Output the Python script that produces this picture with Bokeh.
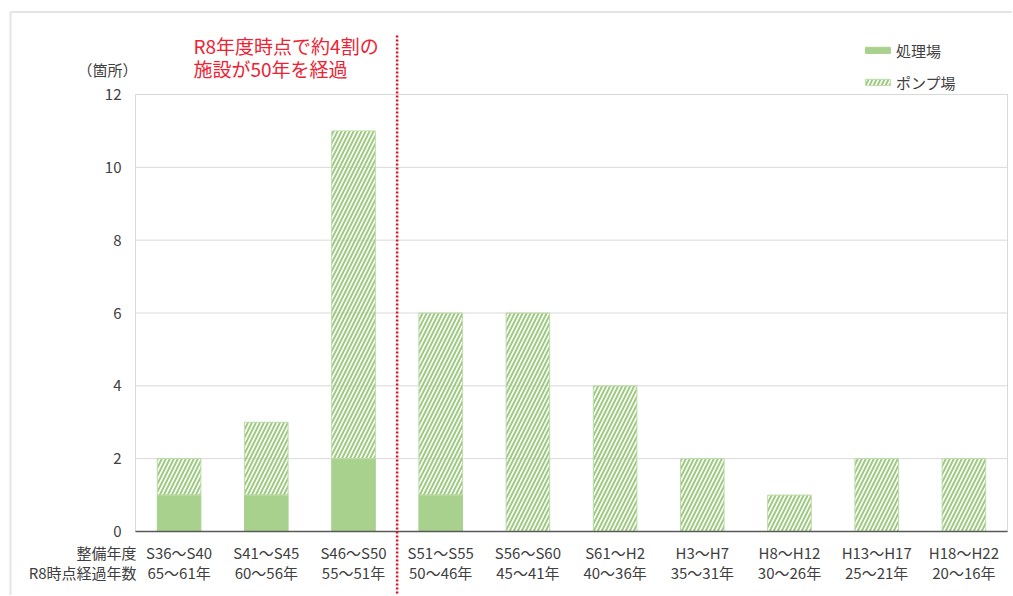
from bokeh.plotting import figure
from bokeh.models import Range1d, Legend, LegendItem, ColumnDataSource
from bokeh.core.properties import value
from bokeh.embed import file_html
from bokeh.resources import INLINE

# ---- data ----
periods = ["S36～S40", "S41～S45", "S46～S50", "S51～S55", "S56～S60",
           "S61～H2", "H3～H7", "H8～H12", "H13～H17", "H18～H22"]
ages = ["65～61年", "60～56年", "55～51年", "50～46年", "45～41年",
        "40～36年", "35～31年", "30～26年", "25～21年", "20～16年"]
treatment = [1, 1, 2, 1, 0, 0, 0, 0, 0, 0]      # 処理場
pump = [1, 2, 9, 5, 6, 4, 2, 1, 2, 2]           # ポンプ場
yticks = [0, 2, 4, 6, 8, 10, 12]
series_names = ["処理場", "ポンプ場"]
row_titles = ["整備年度", "R8時点経過年数"]
unit_label = "（箇所）"
note_lines = ["R8年度時点で約4割の", "施設が50年を経過"]
divider_after = 3          # 50-year boundary falls after the 3rd category

# ---- layout (pixels) ----
W, H = 1012, 595
PX_L, PX_R, PX_T, PX_B = 135, 1007, 94, 531
n = len(periods)
ymax = max(yticks)
sx = (PX_R - PX_L) / n
sy = (PX_B - PX_T) / ymax
x0 = -PX_L / sx
x1 = x0 + W / sx
ytop = ymax + PX_T / sy
ybot = ytop - H / sy

def ypix(py):
    return ymax + (PX_T - py) / sy

def xpix(px):
    return (px - PX_L) / sx

FONT = "Noto Sans CJK JP"
TXT = "#404040"
GREEN = "#a9d18e"

xs = [i + 0.5 for i in range(n)]
src = ColumnDataSource(dict(x=xs, t=treatment, p=pump))

p = figure(width=W, height=H, output_backend="svg", toolbar_location=None,
           x_range=Range1d(x0, x1), y_range=Range1d(ybot, ytop),
           min_border=0, min_border_left=0, min_border_right=0,
           min_border_top=0, min_border_bottom=0)
p.axis.visible = False
p.grid.grid_line_color = None
p.outline_line_color = None

# outer border of the picture
p.segment(x0=[xpix(10), xpix(10)], y0=[ypix(11.5), ypix(11.5)],
          x1=[x1 + 1, xpix(10)], y1=[ypix(11.5), ybot - 1],
          line_color="#e4e4e4", line_width=2)

# plot-area outline and gridlines
p.quad(left=0, right=n, bottom=0, top=ymax, fill_color=None,
       line_color="#d9d9d9", line_width=1)
p.segment(x0=[0] * (len(yticks) - 1), x1=[n] * (len(yticks) - 1),
          y0=yticks[1:], y1=yticks[1:], line_color="#d9d9d9", line_width=1)

rs = p.vbar_stack(["t", "p"], x="x", width=0.5, source=src,
                  fill_color=[GREEN, None],
                  line_color=[GREEN, "#bcdca8"], line_width=1,
                  hatch_pattern=[None, "/"], hatch_color="#9fca82",
                  hatch_weight=2, hatch_scale=8)

# x axis line
p.segment(x0=[0], x1=[n], y0=[0], y1=[0], line_color="#595959", line_width=1.5)

# y tick labels
p.text(x=[0] * len(yticks), y=yticks, text=[str(v) for v in yticks],
       x_offset=-14, text_align="right", text_baseline="middle",
       text_font=value(FONT), text_font_size=value("15px"), text_color=TXT)

# x category labels (two rows)
row1_y, row2_y = ypix(552), ypix(572)
p.text(x=xs, y=[row1_y] * n, text=periods, text_align="center",
       text_baseline="middle", text_font=value(FONT),
       text_font_size=value("15px"), text_color=TXT)
p.text(x=xs, y=[row2_y] * n, text=ages, text_align="center",
       text_baseline="middle", text_font=value(FONT),
       text_font_size=value("15px"), text_color=TXT)
p.text(x=[0, 0], y=[row1_y, row2_y], text=row_titles, x_offset=1,
       text_align="right", text_baseline="middle", text_font=value(FONT),
       text_font_size=value("15px"), text_color=TXT)

# unit label
p.text(x=[0], y=[ypix(68.5)], text=[unit_label], x_offset=2, text_align="right",
       text_baseline="middle", text_font=value(FONT),
       text_font_size=value("15px"), text_color=TXT)

# red note and dotted divider
p.text(x=[xpix(193)] * 2, y=[ypix(44.5), ypix(68)], text=note_lines,
       text_align="left", text_baseline="middle", text_font=value(FONT),
       text_font_size=value("19px"), text_color="#ee2233")
p.segment(x0=[divider_after], x1=[divider_after], y0=[ypix(35)], y1=[ybot - 1],
          line_color="#dd1122", line_width=2.5, line_dash="2 2")

# legend
legend = Legend(items=[LegendItem(label=series_names[0], renderers=[rs[0]]),
                       LegendItem(label=series_names[1], renderers=[rs[1]])],
                location=(862, H - 34 - 64), orientation="vertical",
                padding=0, margin=0, spacing=0, glyph_width=31, glyph_height=8,
                label_height=32, label_standoff=3,
                label_text_font=FONT, label_text_font_size="15px",
                label_text_color=TXT, border_line_color=None,
                background_fill_alpha=0)
p.add_layout(legend, "center")

open("out.html", "w").write(file_html(p, INLINE))
